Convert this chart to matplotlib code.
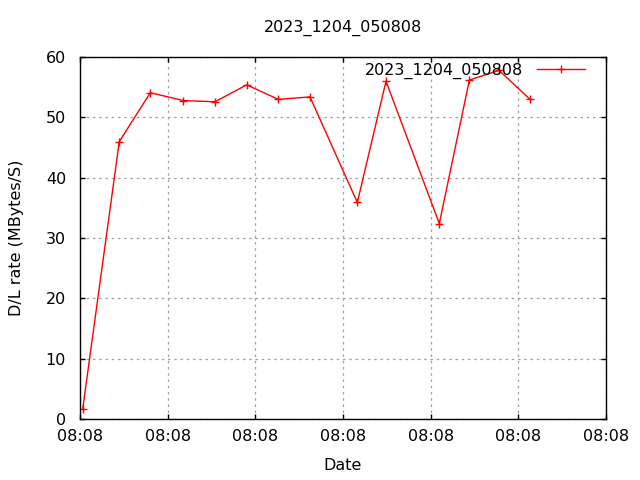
import matplotlib
matplotlib.use('Agg')

import matplotlib.pyplot as plt
from matplotlib.ticker import FixedLocator, FixedFormatter

# Sample times (offset units on the time axis) and download rates
t_offset = [0.031, 0.448, 0.802, 1.178, 1.540, 1.901, 2.262, 2.623,
            3.163, 3.490, 4.098, 4.441, 4.779, 5.133]
dl_rate = [1.7, 46.0, 54.1, 52.8, 52.6, 55.4, 53.0, 53.4,
           35.9, 56.0, 32.4, 56.2, 57.8, 53.0]

tick_pos = [0, 1, 2, 3, 4, 5, 6]
tick_labels = ['08:08'] * 7
series_name = '2023_1204_050808'

plt.rcParams['font.family'] = 'DejaVu Sans'
fs = 11.5

fig = plt.figure(figsize=(6.4, 4.8), dpi=100)
ax = fig.add_axes([0.125, 0.127, 0.822, 0.754])

ax.plot(t_offset, dl_rate, color='red', linewidth=1.0, marker='+',
        markersize=6, markeredgewidth=1.0, label=series_name)

ax.set_xlim(0, 6)
ax.set_ylim(0, 60)
ax.xaxis.set_major_locator(FixedLocator(tick_pos))
ax.xaxis.set_major_formatter(FixedFormatter(tick_labels))
ax.set_yticks(range(0, 61, 10))

ax.tick_params(direction='in', top=True, right=True, length=3.5, width=1,
               labelsize=fs)
ax.tick_params(axis='y', pad=10)
ax.tick_params(axis='x', pad=7)
ax.grid(True, color='#a0a0a0', linestyle=(0, (2, 3)), linewidth=0.9)
for s in ax.spines.values():
    s.set_linewidth(1.0)

ax.set_title(series_name, fontsize=fs, pad=18)
ax.set_xlabel('Date', fontsize=fs, labelpad=10)
ax.set_ylabel('D/L rate (MBytes/S)', fontsize=fs, labelpad=16)

ax.legend(loc='upper right', frameon=False, markerfirst=False,
          handlelength=3.0, handletextpad=0.85, fontsize=fs,
          borderpad=0, borderaxespad=0, bbox_to_anchor=(0.960, 0.985))

fig.savefig('out.png', dpi=100)
